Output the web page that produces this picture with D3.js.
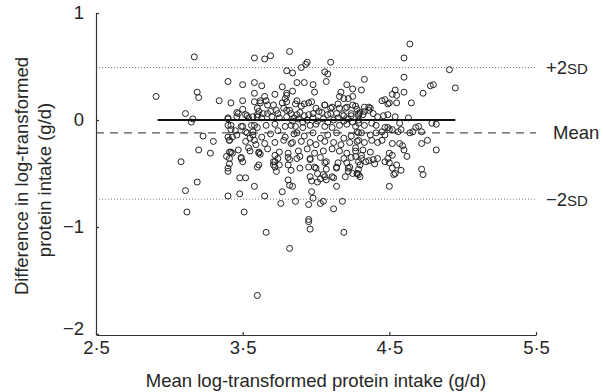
<!DOCTYPE html>
<html>
<head>
<meta charset="utf-8">
<script src="https://cdn.jsdelivr.net/npm/d3@7"></script>
<style>
  body { margin: 0; background: #fff; }
  svg { display: block; font-family: "Liberation Sans", Arial, sans-serif; }
</style>
</head>
<body>
<div id="chart"></div>
<script>
const width = 603;
const height = 392;

// Bland-Altman points: mean of the two log intakes (x) and their difference (y)
const meanValues = [
  2.91, 3.17, 3.19, 3.20, 3.11, 3.16, 3.15, 3.20, 3.08, 3.19, 3.11, 3.12, 3.23, 3.30, 3.28,
  3.40, 3.50, 3.58, 3.58, 3.34, 3.42, 3.50, 3.58, 3.60, 3.46, 3.50, 3.40, 3.53, 3.57, 3.58,
  3.65, 3.69, 3.82, 3.80, 3.84, 3.90, 3.93, 3.94, 4.10, 4.06, 4.08, 4.07, 4.33, 3.63, 3.87,
  3.92, 3.98, 3.99, 3.77, 3.84, 3.80, 3.79, 3.80, 3.65, 3.72, 3.62, 3.66, 4.21, 4.25, 4.31,
  4.17, 4.19, 4.22, 3.87, 3.92, 3.97, 4.06, 4.10, 4.16, 4.21, 4.27, 4.33, 3.71, 3.73, 3.78,
  3.82, 3.60, 3.64, 3.69, 3.89, 3.95, 4.02, 4.10, 4.18, 4.24, 4.30,
  4.64, 4.60, 4.91, 4.60, 4.95, 4.78, 4.80, 4.73, 4.54, 4.52, 4.55, 4.60, 4.47, 4.49, 4.55,
  4.65, 4.37, 4.36, 4.33, 4.46, 4.49, 4.54, 4.63, 4.42, 4.45,
  4.82, 4.70, 4.57, 4.58, 4.64, 4.68, 4.79, 4.49, 4.50, 4.47, 4.45, 4.72, 4.76, 4.82, 4.57,
  4.59, 4.62, 4.52, 4.50, 4.52, 4.49, 4.42, 4.50, 4.52, 4.55, 4.58, 4.54, 4.53, 4.72, 4.73,
  4.50, 4.39, 4.34, 4.30, 4.28, 4.60,
  3.39, 3.41, 3.43, 3.41, 3.40, 3.49, 3.50, 3.48, 3.52, 3.58, 3.60, 3.40, 3.48, 3.51,
  3.40, 3.42, 3.46, 3.41, 3.43, 3.50, 3.53, 3.55, 3.57, 3.58, 3.59, 3.54, 3.61,
  3.65, 3.73, 3.71, 3.75, 3.72, 3.74, 3.71, 3.83, 3.81, 3.82, 3.84, 3.77, 3.76, 3.86, 3.95,
  3.97, 3.98, 4.03, 4.05, 4.12, 4.18, 4.14, 3.95, 3.97, 4.01, 4.03, 4.07, 4.11, 3.95, 4.00,
  4.01, 4.05, 4.06, 4.15, 4.14, 4.21, 4.23, 4.22, 4.25, 4.29, 4.27, 4.31, 3.82, 3.89, 3.96,
  3.66, 3.82, 3.60, 3.95, 3.96, 4.19,
  3.80, 3.62, 3.67, 3.77, 3.47, 3.52, 3.61, 3.67, 3.74, 3.80, 3.83,
  3.40, 3.46, 3.54, 3.60, 3.63, 3.70, 3.75, 3.80, 3.85,
  3.42, 3.49, 3.56, 3.60, 3.66, 3.72, 3.79, 3.83,
  3.40, 3.45, 3.52, 3.57, 3.63, 3.69, 3.74, 3.79, 3.85,
  3.41, 3.52, 3.58, 3.65, 3.72, 3.78, 3.83,
  3.42, 3.47, 3.55, 3.61, 3.67, 3.75, 3.81,
  3.41, 3.49, 3.62, 3.72, 3.81,
  3.40, 3.61, 3.72, 3.81,
  4.25, 4.16, 3.86, 3.90, 3.95, 4.00, 4.06, 4.11, 4.15, 4.20, 4.25, 4.28,
  3.87, 3.92, 3.98, 4.04, 4.08, 4.14, 4.19, 4.24, 4.29,
  3.84, 3.88, 3.91, 3.94, 3.98, 4.01, 4.05, 4.08, 4.12, 4.15, 4.19, 4.22, 4.25, 4.29,
  3.86, 3.91, 3.96, 4.00, 4.06, 4.11, 4.16, 4.21, 4.27,
  3.87, 3.92, 3.98, 4.03, 4.08, 4.14, 4.19, 4.24, 4.29,
  3.84, 3.90, 3.96, 4.00, 4.06, 4.12, 4.17, 4.23, 4.28,
  3.88, 3.94, 3.99, 4.05, 4.11, 4.16, 4.21, 4.27,
  3.87, 3.96, 4.03, 4.07, 4.19, 4.24, 4.29,
  3.89, 3.99, 4.07, 4.14, 4.22, 4.29,
  3.96, 4.06, 4.12, 4.20,
  4.50, 4.36, 4.29, 4.32, 4.39,
  4.29, 4.33, 4.38, 4.41, 4.47, 4.52, 4.56, 4.66, 4.72,
  4.28, 4.31, 4.37, 4.41, 4.45,
  4.29, 4.33, 4.38, 4.42,
  4.27, 4.32, 4.37,
  4.31, 4.36, 4.40, 4.47,
  4.28, 4.30
];

const diffValues = [
  0.22, 0.59, 0.26, 0.21, 0.06, 0.01, -0.02, -0.28, -0.39, -0.58, -0.66, -0.86, -0.15, -0.20, -0.31,
  0.36, 0.33, 0.35, 0.25, 0.18, 0.16, 0.18, 0.17, 0.11, 0.07, 0.10, 0.01, 0.04, 0.03, 0.58,
  0.57, 0.60, 0.64, 0.46, 0.44, 0.49, 0.52, 0.54, 0.54, 0.45, 0.43, 0.36, 0.38, 0.32, 0.35,
  0.35, 0.33, 0.26, 0.31, 0.27, 0.25, 0.20, 0.17, 0.22, 0.24, 0.18, 0.18, 0.33, 0.29, 0.28,
  0.26, 0.20, 0.20, 0.18, 0.15, 0.17, 0.14, 0.11, 0.11, 0.12, 0.13, 0.12, 0.14, 0.09, 0.11,
  0.09, 0.05, 0.06, 0.08, 0.07, 0.05, 0.08, 0.06, 0.05, 0.04, 0.07,
  0.71, 0.58, 0.47, 0.40, 0.30, 0.32, 0.33, 0.25, 0.28, 0.24, 0.23, 0.26, 0.19, 0.15, 0.16,
  0.16, 0.11, 0.09, 0.08, 0.04, 0.05, 0.03, 0.02, 0.03, 0.18,
  -0.04, -0.06, -0.03, -0.09, -0.12, -0.07, -0.03, -0.07, -0.09, -0.14, -0.19, -0.22, -0.19, -0.28, -0.22,
  -0.24, -0.34, -0.22, -0.31, -0.33, -0.36, -0.36, -0.40, -0.45, -0.42, -0.47, -0.50, -0.51, -0.46, -0.51,
  -0.62, -0.37, -0.39, -0.42, -0.50, -0.28,
  -0.34, -0.30, -0.31, -0.41, -0.48, -0.36, -0.39, -0.54, -0.54, -0.62, -0.44, -0.71, -0.69, -0.86,
  -0.05, -0.09, -0.14, -0.19, -0.16, -0.06, -0.12, -0.17, -0.11, -0.05, -0.23, -0.26, -0.30,
  -0.71, -0.48, -0.42, -0.42, -0.33, -0.36, -0.39, -0.47, -0.56, -0.61, -0.62, -0.67, -0.78, -0.76, -0.79,
  -0.67, -0.73, -0.78, -0.76, -0.83, -0.76, -0.62, -0.93, -0.57, -0.58, -0.55, -0.56, -0.53, -0.44, -0.45,
  -0.50, -0.51, -0.40, -0.40, -0.44, -0.40, -0.44, -0.48, -0.50, -0.51, -0.34, -0.33, -0.37, -0.34, -0.37,
  -1.05, -1.20, -1.64, -0.95, -1.02, -1.05,
  0.23, 0.16, 0.14, 0.16, 0.06, 0.05, 0.08, 0.06, 0.06, 0.09, 0.06,
  0.02, 0.03, 0.02, 0.03, 0.02, 0.03, 0.02, 0.03, 0.02,
  -0.05, -0.06, -0.05, -0.07, -0.05, -0.04, -0.06, -0.05,
  -0.16, -0.10, -0.11, -0.14, -0.16, -0.13, -0.10, -0.16, -0.13,
  -0.19, -0.20, -0.19, -0.22, -0.21, -0.19, -0.22,
  -0.30, -0.28, -0.29, -0.31, -0.27, -0.30, -0.31,
  -0.36, -0.35, -0.32, -0.39, -0.35,
  -0.45, -0.42, -0.44, -0.42,
  0.22, 0.22, 0.15, 0.13, 0.16, 0.11, 0.14, 0.12, 0.15, 0.11, 0.14, 0.10,
  0.05, 0.04, 0.06, 0.07, 0.05, 0.06, 0.04, 0.06, 0.04,
  -0.01, 0.01, -0.02, 0.00, 0.02, -0.01, 0.01, -0.02, 0.00, 0.02, -0.01, 0.01, -0.02, 0.00,
  -0.06, -0.07, -0.05, -0.04, -0.06, -0.07, -0.05, -0.04, -0.06,
  -0.12, -0.15, -0.12, -0.17, -0.14, -0.12, -0.17, -0.15, -0.12,
  -0.21, -0.20, -0.21, -0.23, -0.20, -0.21, -0.23, -0.21, -0.20,
  -0.29, -0.27, -0.31, -0.29, -0.27, -0.29, -0.31, -0.29,
  -0.36, -0.36, -0.35, -0.39, -0.36, -0.35, -0.39,
  -0.45, -0.44, -0.46, -0.45, -0.45, -0.46,
  -0.53, -0.53, -0.54, -0.53,
  0.16, 0.12, 0.06, 0.05, 0.06,
  -0.03, -0.05, -0.03, -0.05, -0.07, -0.09, -0.11, -0.11, -0.11,
  -0.11, -0.12, -0.14, -0.12, -0.11,
  -0.19, -0.21, -0.19, -0.21,
  -0.26, -0.28, -0.30,
  -0.36, -0.38, -0.41, -0.39,
  -0.50, -0.53
];

// Reference lines: mean difference and limits of agreement
const meanDiff = -0.12;
const upperLimit = 0.49;
const lowerLimit = -0.74;
const zeroLineRange = [2.92, 4.95];

const xTicks = [2.5, 3.5, 4.5, 5.5];
const yTicks = [1, 0, -1, -2];

const points = meanValues.map((m, i) => ({ x: m, y: diffValues[i] }));

const x = d3.scaleLinear().domain([2.5, 5.5]).range([96, 536]);
const y = d3.scaleLinear().domain([-2, 1]).range([334, 13]);

const svg = d3.select("#chart")
  .append("svg")
  .attr("width", width)
  .attr("height", height);

const textColor = "#262626";
const fontSize = 18.5;

// Dotted limit lines and dashed mean line
[upperLimit, lowerLimit].forEach(v => {
  svg.append("line")
    .attr("x1", x(2.5)).attr("x2", x(5.5))
    .attr("y1", y(v)).attr("y2", y(v))
    .attr("stroke", "#777")
    .attr("stroke-width", 1)
    .attr("stroke-dasharray", "1,2");
});

svg.append("line")
  .attr("x1", x(2.5)).attr("x2", x(5.5))
  .attr("y1", y(meanDiff)).attr("y2", y(meanDiff))
  .attr("stroke", "#555")
  .attr("stroke-width", 1.3)
  .attr("stroke-dasharray", "8,6");

// Points
svg.append("g")
  .selectAll("circle")
  .data(points)
  .join("circle")
  .attr("cx", d => x(d.x))
  .attr("cy", d => y(d.y))
  .attr("r", 3)
  .attr("fill", "none")
  .attr("stroke", "#222")
  .attr("stroke-width", 1);

// Zero line
svg.append("line")
  .attr("x1", x(zeroLineRange[0])).attr("x2", x(zeroLineRange[1]))
  .attr("y1", y(0)).attr("y2", y(0))
  .attr("stroke", "#111")
  .attr("stroke-width", 2);

// Axes
const yAxis = svg.append("g")
  .attr("transform", `translate(${x(2.5)},0)`)
  .call(d3.axisLeft(y).tickValues(yTicks).tickSizeInner(-3).tickSizeOuter(0).tickPadding(12)
    .tickFormat(d3.format("d")));

const xAxis = svg.append("g")
  .attr("transform", `translate(0,${y(-2) + 1})`)
  .call(d3.axisBottom(x).tickValues(xTicks).tickSizeInner(-3).tickSizeOuter(0).tickPadding(6)
    .tickFormat(d => d3.format(".1f")(d).replace(".", "·")));

[yAxis, xAxis].forEach(g => {
  g.select(".domain").attr("stroke", "#333").attr("stroke-width", 1.2);
  g.selectAll(".tick line").attr("stroke", "#333").attr("stroke-width", 1.2);
  g.selectAll(".tick text")
    .attr("fill", textColor)
    .style("font-size", fontSize + "px")
    .style("font-family", "'Liberation Sans', Arial, sans-serif");
});

// lift the bottom y label clear of the x tick labels
yAxis.selectAll(".tick text").filter(d => d === -2).attr("dy", "0.05em");

// Axis titles
svg.append("text")
  .attr("x", 316).attr("y", 387)
  .attr("text-anchor", "middle")
  .attr("fill", textColor)
  .style("font-size", fontSize + "px")
  .text("Mean log-transformed protein intake (g/d)");

svg.append("text")
  .attr("transform", "translate(28,176) rotate(-90)")
  .attr("text-anchor", "middle")
  .attr("fill", textColor)
  .style("font-size", fontSize + "px")
  .text("Difference in log-transformed");

svg.append("text")
  .attr("transform", "translate(51,180) rotate(-90)")
  .attr("text-anchor", "middle")
  .attr("fill", textColor)
  .style("font-size", fontSize + "px")
  .text("protein intake (g/d)");

// Right-hand labels
function sdLabel(sign, value) {
  const t = svg.append("text")
    .attr("x", 546).attr("y", y(value))
    .attr("dy", "0.35em")
    .attr("fill", textColor)
    .style("font-size", fontSize + "px");
  t.append("tspan").text(sign + "2");
  t.append("tspan").style("font-size", "15px").text("SD");
}
sdLabel("+", upperLimit);
sdLabel("\u2212", lowerLimit);

svg.append("text")
  .attr("x", 553).attr("y", y(meanDiff))
  .attr("dy", "0.35em")
  .attr("fill", textColor)
  .style("font-size", fontSize + "px")
  .text("Mean");
</script>
</body>
</html>
